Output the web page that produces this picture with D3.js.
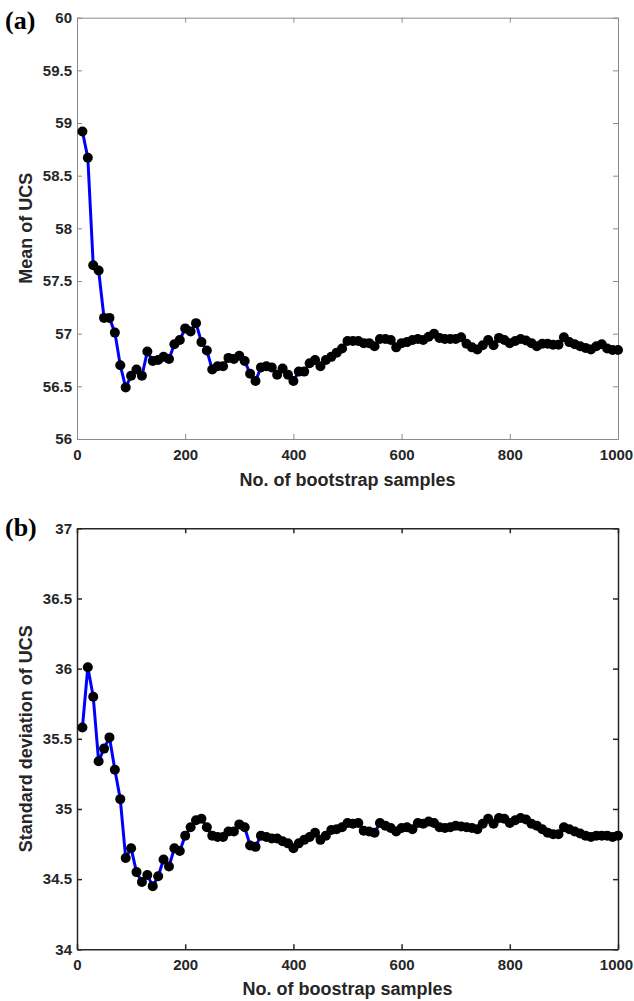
<!DOCTYPE html>
<html><head><meta charset="utf-8">
<script src="https://cdn.jsdelivr.net/npm/d3@7"></script>
<style>
body{margin:0;background:#fff;}
svg{display:block;}
.tl{font-family:"Liberation Sans",Arial,sans-serif;font-weight:bold;font-size:15px;fill:#262626;}
.at{font-family:"Liberation Sans",Arial,sans-serif;font-weight:bold;font-size:18px;fill:#262626;}
.pl{font-family:"Liberation Serif","Times New Roman",serif;font-weight:bold;font-size:26px;fill:#000;}
</style></head>
<body>
<svg id="c" width="634" height="1001"></svg>
<script>
const samples = d3.range(10, 1001, 10);
const meanUCS = [58.92,58.67,57.65,57.60,57.15,57.15,57.01,56.70,56.49,56.60,
56.66,56.60,56.83,56.74,56.75,56.78,56.76,56.90,56.94,57.05,
57.02,57.10,56.92,56.84,56.66,56.69,56.69,56.77,56.76,56.79,
56.74,56.62,56.55,56.68,56.69,56.68,56.61,56.67,56.61,56.55,
56.64,56.64,56.72,56.75,56.69,56.75,56.78,56.82,56.86,56.93,
56.93,56.93,56.91,56.91,56.88,56.95,56.95,56.94,56.87,56.91,
56.92,56.94,56.95,56.94,56.97,57.00,56.96,56.95,56.95,56.95,
56.965,56.905,56.87,56.85,56.89,56.94,56.89,56.96,56.94,56.91,
56.93,56.95,56.935,56.91,56.88,56.905,56.905,56.895,56.895,56.965,
56.92,56.90,56.88,56.865,56.85,56.88,56.90,56.86,56.845,56.845];
const sdUCS = [35.58,36.01,35.80,35.34,35.43,35.51,35.28,35.07,34.65,34.72,
34.55,34.48,34.53,34.45,34.52,34.64,34.59,34.72,34.70,34.81,
34.87,34.92,34.93,34.87,34.81,34.80,34.80,34.84,34.84,34.89,
34.87,34.74,34.73,34.81,34.80,34.79,34.79,34.77,34.755,34.72,
34.755,34.78,34.80,34.83,34.78,34.81,34.85,34.855,34.87,34.90,
34.895,34.90,34.845,34.84,34.83,34.90,34.88,34.865,34.84,34.865,
34.87,34.855,34.90,34.895,34.91,34.90,34.87,34.865,34.87,34.88,
34.875,34.87,34.865,34.855,34.895,34.93,34.895,34.935,34.93,34.90,
34.92,34.935,34.925,34.895,34.88,34.855,34.83,34.82,34.82,34.87,
34.855,34.84,34.825,34.81,34.80,34.81,34.81,34.81,34.80,34.81];
const xTicks = [0,200,400,600,800,1000];
const yTicksA = [56,56.5,57,57.5,58,58.5,59,59.5,60];
const yTicksB = [34,34.5,35,35.5,36,36.5,37];

const svg = d3.select("#c");
const L = 77, R = 618;

function panel(o){
  const x = d3.scaleLinear().domain([0,1000]).range([L,R]);
  const y = d3.scaleLinear().domain(o.ydom).range([o.bot,o.top]);
  const g = svg.append("g");
  const fmt = d => (Number.isInteger(d) ? d3.format("d")(d) : d3.format(".1f")(d));
  const ax = g.append("g").attr("transform",`translate(0,${o.bot})`)
    .call(d3.axisBottom(x).tickValues(xTicks).tickSizeInner(-5).tickSizeOuter(0).tickPadding(10).tickFormat(d3.format("d")));
  const axT = g.append("g").attr("transform",`translate(0,${o.top})`)
    .call(d3.axisTop(x).tickValues(xTicks).tickSizeInner(-5).tickSizeOuter(0).tickFormat(""));
  const ay = g.append("g").attr("transform",`translate(${L},0)`)
    .call(d3.axisLeft(y).tickValues(o.yt).tickSizeInner(-5).tickSizeOuter(0).tickPadding(5).tickFormat(fmt));
  const ayR = g.append("g").attr("transform",`translate(${R},0)`)
    .call(d3.axisRight(y).tickValues(o.yt).tickSizeInner(-5).tickSizeOuter(0).tickFormat(""));
  [ax,axT,ay,ayR].forEach(a=>{
    a.select(".domain").attr("stroke",o.axc).attr("stroke-width",o.axw);
    a.selectAll(".tick line").attr("stroke",o.axc).attr("stroke-width",o.axw);
    a.selectAll("text").attr("class","tl").attr("fill",null).attr("font-size",null).attr("font-family",null);
  });
  ax.selectAll("text").attr("dy","0.71em");
  ax.selectAll(".tick text").filter(d=>d===1000).attr("dx",-2);
  const pts = samples.map((s,i)=>[s,o.data[i]]);
  g.append("path").datum(pts).attr("fill","none").attr("stroke","#0000ff").attr("stroke-width",3)
    .attr("d", d3.line().x(d=>x(d[0])).y(d=>y(d[1])));
  g.selectAll("circle.m").data(pts).enter().append("circle").attr("class","m")
    .attr("cx",d=>x(d[0])).attr("cy",d=>y(d[1])).attr("r",5).attr("fill","#000");
  g.append("text").attr("class","at").attr("x",(L+R)/2).attr("y",o.xty).attr("text-anchor","middle").text(o.xt);
  g.append("text").attr("class","at").attr("transform",`translate(32,${(o.top+o.bot)/2}) rotate(-90)`)
    .attr("text-anchor","middle").text(o.yttl);
  g.append("text").attr("class","pl").attr("x",5).attr("y",o.ply).text(o.pl);
}

panel({ydom:[56,60],top:17.7,bot:439,yt:yTicksA,data:meanUCS,axc:"#8a8a8a",axw:1,
  xt:"No. of bootstrap samples",xty:486,yttl:"Mean of UCS",pl:"(a)",ply:29});
panel({ydom:[34,37],top:528.3,bot:949.3,yt:yTicksB,data:sdUCS,axc:"#262626",axw:1.5,
  xt:"No. of boostrap samples",xty:995,yttl:"Standard deviation of UCS",pl:"(b)",ply:536});
</script>
</body></html>
